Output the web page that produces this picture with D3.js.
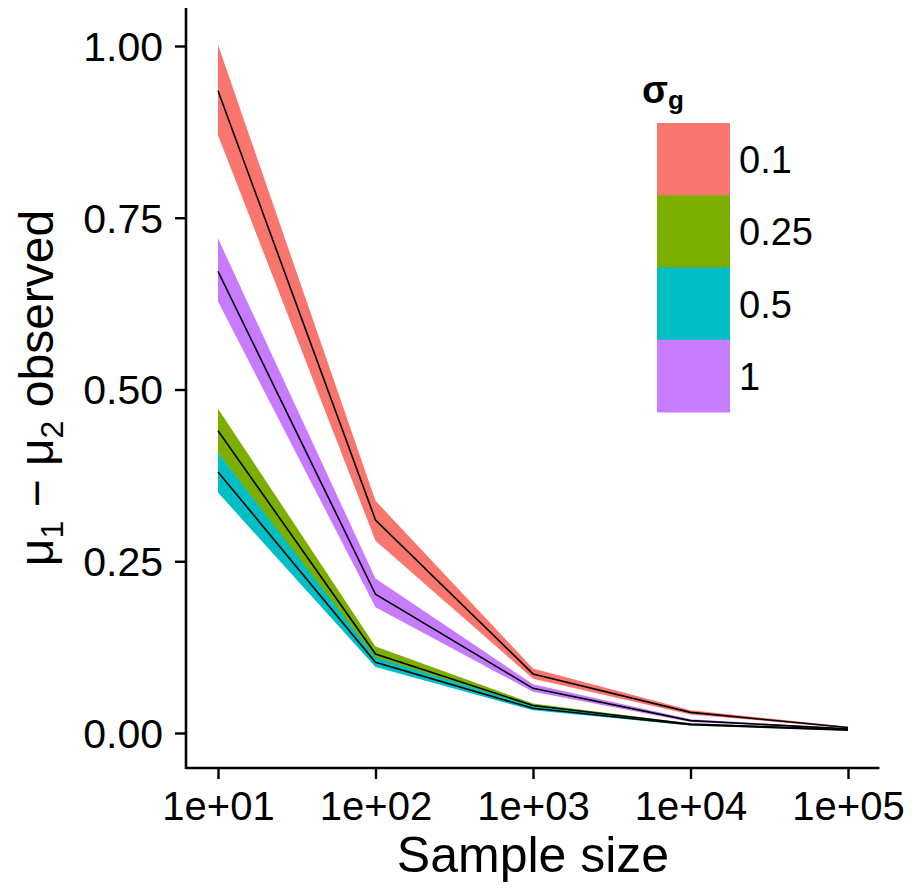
<!DOCTYPE html>
<html>
<head>
<meta charset="utf-8">
<script src="https://cdn.jsdelivr.net/npm/d3@7"></script>
<style>
  body { margin: 0; background: #fff; }
  text { font-family: "Liberation Sans", Arial, sans-serif; fill: #000; }
</style>
</head>
<body>
<div id="chart"></div>
<script>
// sample sizes
var sizes = [10, 100, 1000, 10000, 100000];
var xTicks = ['1e+01', '1e+02', '1e+03', '1e+04', '1e+05'];
var yTicks = [0, 0.25, 0.5, 0.75, 1];

// sigma_g groups
var groups = ['0.1', '0.25', '0.5', '1'];
var colors = ['#F8766D', '#7CAE00', '#00BFC4', '#C77CFF'];

// mean difference observed, and ribbon bounds, one row per group
var means = [
  [0.935, 0.310, 0.086, 0.030, 0.008],
  [0.440, 0.115, 0.040, 0.013, 0.005],
  [0.380, 0.103, 0.036, 0.012, 0.004],
  [0.672, 0.202, 0.065, 0.018, 0.006]
];
var lower = [
  [0.870, 0.280, 0.079, 0.027, 0.007],
  [0.408, 0.106, 0.037, 0.012, 0.0045],
  [0.350, 0.096, 0.033, 0.011, 0.0035],
  [0.628, 0.183, 0.060, 0.016, 0.0055]
];
var upper = [
  [1.002, 0.338, 0.094, 0.033, 0.009],
  [0.472, 0.126, 0.043, 0.014, 0.0055],
  [0.408, 0.110, 0.039, 0.013, 0.0045],
  [0.720, 0.225, 0.071, 0.020, 0.0065]
];

var width = 912, height = 890;
var svg = d3.select('#chart').append('svg')
  .attr('width', width)
  .attr('height', height);

var x = d3.scaleLog().domain([Math.pow(10, 0.8), Math.pow(10, 5.2)]).range([186.5, 879.5]);
var y = d3.scaleLinear().domain([0, 1]).range([733, 46]);

var area = d3.area()
  .x(function(d) { return x(d.n); })
  .y0(function(d) { return y(d.lo); })
  .y1(function(d) { return y(d.hi); });

var line = d3.line()
  .x(function(d) { return x(d.n); })
  .y(function(d) { return y(d.m); });

var rows = groups.map(function(g, gi) {
  return sizes.map(function(n, i) {
    return { n: n, m: means[gi][i], lo: lower[gi][i], hi: upper[gi][i] };
  });
});

// ribbons first, then the lines on top
svg.append('g').selectAll('path').data(rows)
  .enter().append('path')
    .attr('d', area)
    .style('fill', function(d, i) { return colors[i]; });

svg.append('g').selectAll('path').data(rows)
  .enter().append('path')
    .attr('d', line)
    .style('fill', 'none')
    .style('stroke', '#000')
    .style('stroke-width', 1.6);

// axes
var xAxis = d3.axisBottom(x).tickValues(sizes)
  .tickFormat(function(d, i) { return xTicks[i]; })
  .tickSizeInner(11).tickSizeOuter(0).tickPadding(6);
var gx = svg.append('g').attr('transform', 'translate(0,768)').call(xAxis);
gx.select('.domain').attr('d', 'M186,0H879.5').style('stroke-width', 2.6);
gx.selectAll('.tick line').style('stroke-width', 2.4);
gx.selectAll('.tick text').style('font-size', '40px').attr('dy', null).attr('y', 52);

var yAxis = d3.axisLeft(y).tickValues(yTicks)
  .tickFormat(d3.format('.2f'))
  .tickSizeInner(11).tickSizeOuter(0).tickPadding(12);
var gy = svg.append('g').attr('transform', 'translate(186,0)').call(yAxis);
gy.select('.domain').attr('d', 'M0,8V769').style('stroke-width', 2.6);
gy.selectAll('.tick line').style('stroke-width', 2.4);
gy.selectAll('.tick text').style('font-size', '41px').attr('dy', '0.35em');

svg.selectAll('.tick text').style('fill', '#000');

// axis titles
svg.append('text')
  .attr('x', 533).attr('y', 872)
  .attr('text-anchor', 'middle')
  .style('font-size', '50px')
  .text('Sample size');

var yt = svg.append('text')
  .attr('transform', 'translate(53,388) rotate(-90)')
  .attr('text-anchor', 'middle')
  .style('font-size', '48px');
yt.append('tspan').text('μ');
yt.append('tspan').attr('dy', 10).style('font-size', '32px').text('1');
yt.append('tspan').attr('dy', -10).text(' − μ');
yt.append('tspan').attr('dy', 10).style('font-size', '32px').text('2');
yt.append('tspan').attr('dy', -10).text(' observed');

// legend
var legend = svg.append('g');
var lt = legend.append('text').attr('x', 642).attr('y', 103)
  .style('font-size', '38px').style('font-weight', 'bold');
lt.append('tspan').text('σ');
lt.append('tspan').attr('dy', 6).style('font-size', '26px').text('g');

var keyH = 72.25;
legend.selectAll('rect').data(groups)
  .enter().append('rect')
    .attr('x', 657)
    .attr('y', function(d, i) { return 123 + i * keyH; })
    .attr('width', 73)
    .attr('height', keyH + 0.5)
    .style('fill', function(d, i) { return colors[i]; });

legend.selectAll('text.lab').data(groups)
  .enter().append('text')
    .attr('class', 'lab')
    .attr('x', 739)
    .attr('y', function(d, i) { return 123 + i * keyH + keyH / 2 + 14; })
    .style('font-size', '38px')
    .text(function(d) { return d; });
</script>
</body>
</html>
